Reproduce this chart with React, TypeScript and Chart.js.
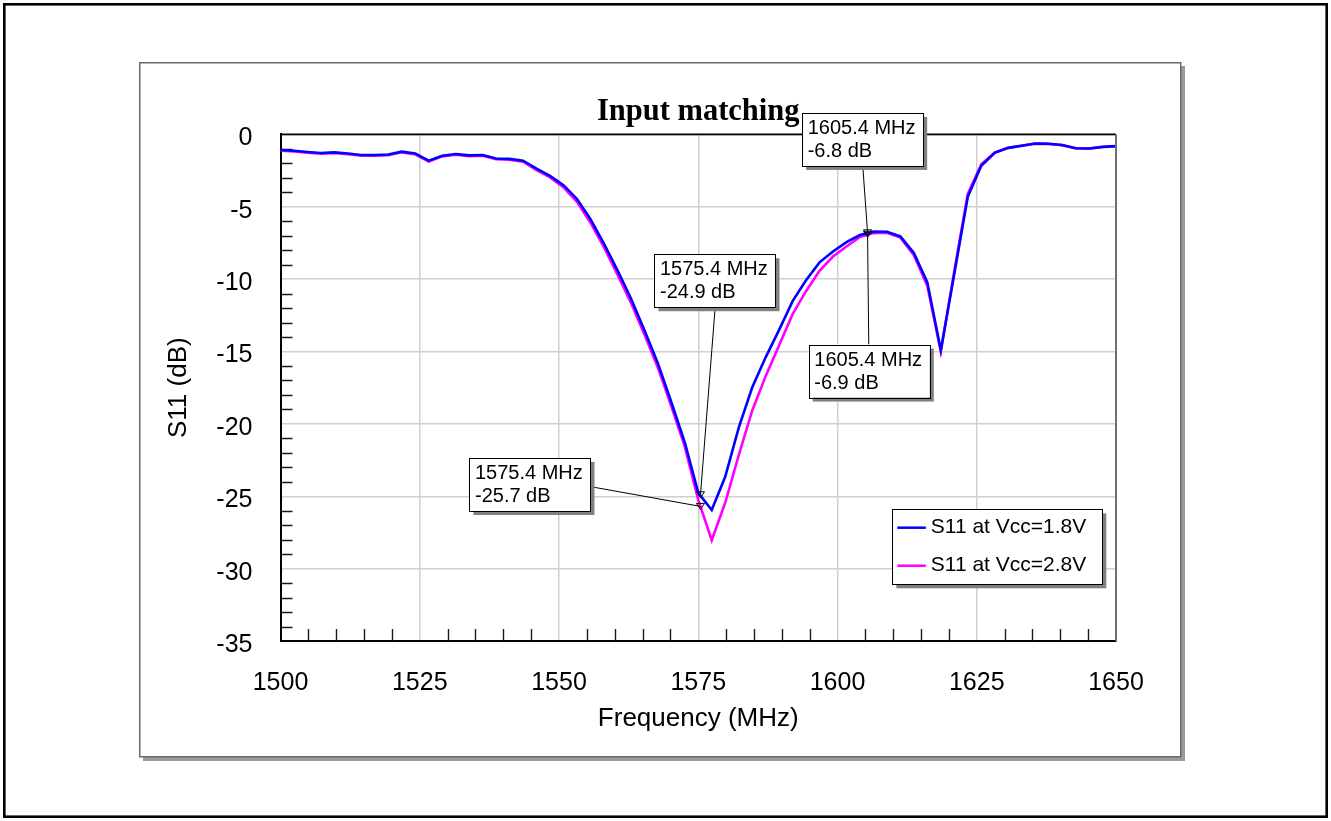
import { useEffect, useRef } from 'react';
import { Chart, registerables } from 'chart.js';

Chart.register(...registerables);

// ---------- data ----------
const chartTitle = 'Input matching';
const xAxisTitle = 'Frequency (MHz)';
const yAxisTitle = 'S11 (dB)';

const frequencies = [
  1500.0, 1502.42, 1504.84, 1507.26, 1509.68, 1512.1, 1514.52, 1516.94, 1519.35, 1521.77,
  1524.19, 1526.61, 1529.03, 1531.45, 1533.87, 1536.29, 1538.71, 1541.13, 1543.55, 1545.97,
  1548.39, 1550.81, 1553.23, 1555.65, 1558.06, 1560.48, 1562.9, 1565.32, 1567.74, 1570.16,
  1572.58, 1575.0, 1577.42, 1579.84, 1582.26, 1584.68, 1587.1, 1589.52, 1591.94, 1594.35,
  1596.77, 1599.19, 1601.61, 1604.03, 1606.45, 1608.87, 1611.29, 1613.71, 1616.13, 1618.55,
  1620.97, 1623.39, 1625.81, 1628.23, 1630.65, 1633.06, 1635.48, 1637.9, 1640.32, 1642.74,
  1645.16, 1647.58, 1650.0,
];

const s11Vcc18 = [
  -1.08, -1.13, -1.22, -1.29, -1.24, -1.32, -1.42, -1.42, -1.39, -1.19,
  -1.32, -1.81, -1.47, -1.35, -1.45, -1.42, -1.67, -1.69, -1.82, -2.37,
  -2.87, -3.51, -4.46, -5.85, -7.54, -9.38, -11.32, -13.51, -15.8, -18.49,
  -21.27, -24.76, -25.95, -23.66, -20.28, -17.49, -15.4, -13.51, -11.52, -10.08,
  -8.84, -8.09, -7.44, -6.95, -6.72, -6.73, -7.05, -8.19, -10.23, -14.91,
  -9.63, -4.31, -2.17, -1.27, -0.93, -0.78, -0.63, -0.65, -0.73, -0.96,
  -0.97, -0.86, -0.81,
];

const s11Vcc28 = [
  -1.13, -1.18, -1.27, -1.33, -1.29, -1.37, -1.47, -1.47, -1.44, -1.24,
  -1.37, -1.87, -1.52, -1.4, -1.5, -1.47, -1.72, -1.75, -1.89, -2.47,
  -2.97, -3.66, -4.66, -6.1, -7.79, -9.68, -11.62, -13.81, -16.1, -18.79,
  -21.57, -25.25, -28.04, -25.45, -22.17, -19.09, -16.7, -14.56, -12.42, -10.83,
  -9.43, -8.44, -7.74, -7.08, -6.82, -6.8, -7.13, -8.34, -10.48, -15.01,
  -9.43, -4.11, -2.07, -1.25, -0.93, -0.78, -0.64, -0.66, -0.74, -0.96,
  -0.98, -0.87, -0.82,
];

const seriesLabels = ['S11 at Vcc=1.8V', 'S11 at Vcc=2.8V'];
const seriesColors = ['#0000ff', '#ff00ff'];

const xMin = 1500;
const xMax = 1650;
const xStep = 25;
const xMinorStep = 5;
const yMin = -35;
const yMax = 0;
const yStep = 5;
const yMinorStep = 1;

// marker annotations
const markerFreqs = [1605.4, 1605.4, 1575.4, 1575.4];
const markerDb = [-6.8, -6.9, -24.9, -25.7];

// ---------- styling / layout (not data) ----------
const W = 1331;
const H = 821;
const FONT = '"Liberation Sans", Arial, sans-serif';

// box offsets relative to marker pixel: [dx, dy, anchorX, anchorY]
const boxLayout = [
  [-65.4, -119.9, 60.6, 53],
  [-58.8, 110.3, 60, 0],
  [-46, -240.6, 60.7, 53],
  [-231, -48.4, 120.7, 28.6],
];

const decorPlugin = {
  id: 'decor',
  beforeDraw(chart: any) {
    const ctx = chart.ctx as CanvasRenderingContext2D;
    ctx.save();
    ctx.fillStyle = '#ffffff';
    ctx.fillRect(0, 0, W, H);
    // outer frame
    ctx.strokeStyle = '#000000';
    ctx.lineWidth = 2.6;
    ctx.strokeRect(4.3, 4.3, W - 8.6, H - 8.6);
    // panel shadow + panel
    ctx.fillStyle = '#9a9a9a';
    ctx.fillRect(143, 66, 1042, 695);
    ctx.fillStyle = '#ffffff';
    ctx.fillRect(139, 62, 1042, 695);
    ctx.strokeStyle = '#6a6a6a';
    ctx.lineWidth = 1.5;
    ctx.strokeRect(139.75, 62.75, 1041, 694);
    ctx.restore();
  },
  beforeDatasetsDraw(chart: any) {
    const ctx = chart.ctx as CanvasRenderingContext2D;
    const { left, bottom } = chart.chartArea;
    const xs = chart.scales.x;
    const ys = chart.scales.y;
    ctx.save();
    ctx.strokeStyle = '#1a1a1a';
    ctx.lineWidth = 1.4;
    ctx.beginPath();
    for (let v = xMin + xMinorStep; v < xMax; v += xMinorStep) {
      if ((v - xMin) % xStep === 0) continue;
      const px = Math.round(xs.getPixelForValue(v)) + 0.5;
      ctx.moveTo(px, bottom);
      ctx.lineTo(px, bottom - 12);
    }
    for (let v = yMin + yMinorStep; v < yMax; v += yMinorStep) {
      if ((v - yMin) % yStep === 0) continue;
      const py = Math.round(ys.getPixelForValue(v)) + 0.5;
      ctx.moveTo(left, py);
      ctx.lineTo(left + 12, py);
    }
    ctx.stroke();
    ctx.restore();
  },
  afterDatasetsDraw(chart: any) {
    const ctx = chart.ctx as CanvasRenderingContext2D;
    const { left, right, top, bottom } = chart.chartArea;
    const xs = chart.scales.x;
    const ys = chart.scales.y;
    ctx.save();
    // top and right frame
    ctx.strokeStyle = '#000000';
    ctx.lineWidth = 1.6;
    ctx.beginPath();
    ctx.moveTo(left, top);
    ctx.lineTo(right, top);
    ctx.stroke();
    ctx.strokeStyle = '#707070';
    ctx.lineWidth = 2;
    ctx.beginPath();
    ctx.moveTo(right, top);
    ctx.lineTo(right, bottom);
    ctx.stroke();

    // title
    ctx.fillStyle = '#000000';
    ctx.font = 'bold 30.5px "Liberation Serif", "Times New Roman", serif';
    ctx.textAlign = 'center';
    ctx.textBaseline = 'alphabetic';
    ctx.fillText(chartTitle, (left + right) / 2, 120);

    // annotations
    const bw = 121;
    const bh = 53;
    for (let i = 0; i < markerFreqs.length; i++) {
      const px = xs.getPixelForValue(markerFreqs[i]);
      const py = ys.getPixelForValue(markerDb[i]);
      const [dx, dy, ax, ay] = boxLayout[i];
      const bx = px + dx;
      const by = py + dy;
      ctx.strokeStyle = '#000000';
      ctx.lineWidth = 1;
      ctx.beginPath();
      ctx.moveTo(bx + ax, by + ay);
      ctx.lineTo(px, py);
      ctx.stroke();
      // marker triangle
      ctx.beginPath();
      ctx.moveTo(px - 4, py - 3);
      ctx.lineTo(px + 4, py - 3);
      ctx.lineTo(px, py + 3);
      ctx.closePath();
      ctx.stroke();
      // box
      ctx.fillStyle = '#808080';
      ctx.fillRect(bx + 4, by + 4, bw, bh);
      ctx.fillStyle = '#ffffff';
      ctx.fillRect(bx, by, bw, bh);
      ctx.strokeStyle = '#000000';
      ctx.strokeRect(Math.round(bx) + 0.5, Math.round(by) + 0.5, bw, bh);
      ctx.fillStyle = '#000000';
      ctx.font = `20px ${FONT}`;
      ctx.textAlign = 'left';
      ctx.textBaseline = 'middle';
      ctx.fillText(`${markerFreqs[i].toFixed(1)} MHz`, bx + 5.5, by + 15.5);
      ctx.fillText(`${markerDb[i].toFixed(1)} dB`, bx + 5.5, by + 38.5);
    }

    // legend
    const lw = 210;
    const lh = 75;
    const lx = right - 223.7;
    const ly = bottom - 131.7;
    ctx.fillStyle = '#808080';
    ctx.fillRect(lx + 4, ly + 4, lw, lh);
    ctx.fillStyle = '#ffffff';
    ctx.fillRect(lx, ly, lw, lh);
    ctx.strokeStyle = '#000000';
    ctx.lineWidth = 1;
    ctx.strokeRect(Math.round(lx) + 0.5, Math.round(ly) + 0.5, lw, lh);
    chart.data.datasets.forEach((ds: any, i: number) => {
      const yy = ly + 18.4 + i * 38;
      ctx.strokeStyle = ds.borderColor;
      ctx.lineWidth = 2.5;
      ctx.beginPath();
      ctx.moveTo(lx + 5, yy);
      ctx.lineTo(lx + 33.5, yy);
      ctx.stroke();
      ctx.fillStyle = '#000000';
      ctx.font = `21px ${FONT}`;
      ctx.textAlign = 'left';
      ctx.textBaseline = 'middle';
      ctx.fillText(ds.label, lx + 38.5, yy);
    });
    ctx.restore();
  },
};

export default function App() {
  const ref = useRef<HTMLCanvasElement>(null);

  useEffect(() => {
    document.body.style.margin = '0';
    if (!ref.current) return;
    const chart = new Chart(ref.current, {
      type: 'line',
      data: {
        datasets: [
          {
            label: seriesLabels[0],
            data: frequencies.map((f, i) => ({ x: f, y: s11Vcc18[i] })),
            borderColor: seriesColors[0],
            backgroundColor: seriesColors[0],
            borderWidth: 2.6,
            pointRadius: 0,
            tension: 0,
            order: 0,
          },
          {
            label: seriesLabels[1],
            data: frequencies.map((f, i) => ({ x: f, y: s11Vcc28[i] })),
            borderColor: seriesColors[1],
            backgroundColor: seriesColors[1],
            borderWidth: 2.6,
            pointRadius: 0,
            tension: 0,
            order: 1,
          },
        ],
      },
      options: {
        animation: false,
        responsive: false,
        devicePixelRatio: 1,
        layout: { padding: { left: 0, top: 134.4, right: W - 1116, bottom: 0 } },
        plugins: {
          legend: { display: false },
          title: { display: false },
          tooltip: { enabled: false },
        },
        scales: {
          x: {
            type: 'linear',
            min: xMin,
            max: xMax,
            afterFit: (s: any) => {
              s.height = H - 641;
            },
            ticks: {
              stepSize: xStep,
              color: '#000000',
              font: { family: FONT, size: 25 },
              padding: 27,
              maxRotation: 0,
              callback: (v: any) => String(v),
            },
            grid: { color: '#d0d0d0', lineWidth: 1.5, drawTicks: false },
            border: { display: true, color: '#000000', width: 2 },
            title: {
              display: true,
              text: xAxisTitle,
              color: '#000000',
              font: { family: FONT, size: 26 },
              padding: { top: 0, bottom: 87 },
            },
          },
          y: {
            type: 'linear',
            min: yMin,
            max: yMax,
            afterFit: (s: any) => {
              s.width = 280.5;
            },
            ticks: {
              stepSize: yStep,
              color: '#000000',
              font: { family: FONT, size: 25 },
              padding: 28,
              labelOffset: 4,
              callback: (v: any) => String(v),
            },
            grid: { color: '#d0d0d0', lineWidth: 1.5, drawTicks: false },
            border: { display: true, color: '#000000', width: 2 },
            title: {
              display: true,
              text: yAxisTitle,
              color: '#000000',
              font: { family: FONT, size: 26 },
              padding: { top: 163, bottom: 0 },
            },
          },
        },
      },
      plugins: [decorPlugin],
    });
    return () => chart.destroy();
  }, []);

  return (
    <canvas
      ref={ref}
      width={W}
      height={H}
      style={{ display: 'block', width: W, height: H }}
    />
  );
}
